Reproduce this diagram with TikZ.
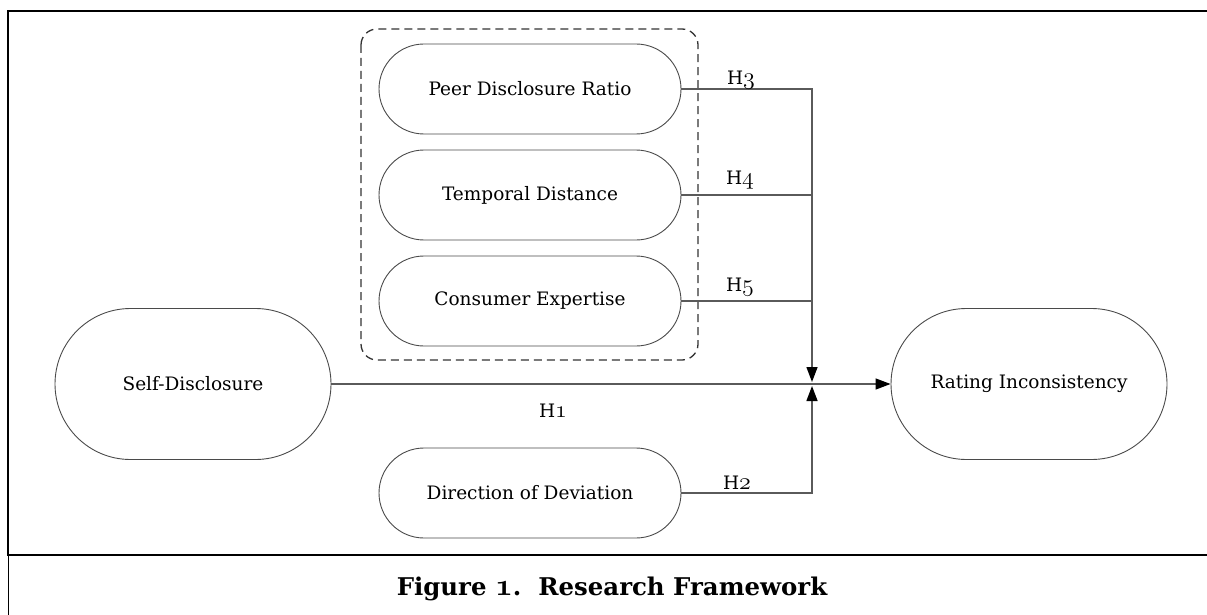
\documentclass[tikz,border=0pt]{standalone}
\usepackage{fix-cm}
\usepackage{fontspec}
\setmainfont{DejaVu Serif}
\usetikzlibrary{arrows.meta,shapes.misc}
\newcommand{\osf}[1]{{\fontencoding{OML}\fontfamily{cmm}\fontshape{it}\fontsize{24}{24}\selectfont #1}}
\newcommand{\osfb}[1]{{\fontencoding{OML}\fontfamily{cmm}\fontseries{b}\fontshape{it}\fontsize{31}{31}\selectfont #1}}
\definecolor{linegray}{HTML}{5A5A5A}
\definecolor{nodegray}{HTML}{4A4A4A}
\tikzset{
  stadium/.style={draw=nodegray, line width=0.9pt, rounded rectangle, inner sep=0pt,
    minimum width=302pt, minimum height=90pt, font=\fontsize{18.5}{22}\selectfont},
  bigstadium/.style={stadium, minimum width=276pt, minimum height=151pt},
  conn/.style={draw=linegray, line width=1.4pt},
  arr/.style={-{Triangle[length=15pt,width=11pt,black]}},
  hlabel/.style={inner sep=0pt, font=\fontsize{18.5}{22}\selectfont},
  frame/.style={line width=2pt, black}
}
\begin{document}
\begin{tikzpicture}[x=1pt,y=-1pt]
\useasboundingbox (0,0) rectangle (1207,615);
% frame
\draw[frame] (8,555) -- (8,11) -- (1208,11);
\draw[frame] (7,555) -- (1208,555);
\draw[line width=1pt] (8,555) -- (8,615);
\node[font=\fontsize{24.4}{28}\selectfont\bfseries] (cap) at (612,589) {Figure \osfb{1}.\ \ Research Framework};
% group box
\draw[dashed, dash pattern=on 8pt off 5pt, rounded corners=16pt, line width=1.3pt, black!80] (361,29) rectangle (698,360);
% nodes
\node[stadium] (peer) at (530,89) {Peer Disclosure Ratio};
\node[stadium] (temp) at (530,195) {Temporal Distance};
\node[stadium] (cons) at (530,301) {Consumer Expertise};
\node[stadium] (dir) at (530,493) {Direction of Deviation};
\node[bigstadium] (self) at (193,384) {Self-Disclosure};
\node[bigstadium] (rate) at (1029,384) {Rating Inconsistency};
% connectors
\coordinate (jt) at (812,382);
\coordinate (jb) at (812,386);
\draw[conn,arr] (peer.east) -| (jt);
\draw[conn] (temp.east) -- (temp.east -| jt);
\draw[conn] (cons.east) -- (cons.east -| jt);
\draw[conn,arr] (dir.east) -| (jb);
\draw[conn,arr] (self.east) -- (rate.west);
% labels
\node[hlabel, anchor=base] (h3) at (741,85) {H\osf{3}};
\node[hlabel, anchor=base] (h4) at (740,184) {H\osf{4}};
\node[hlabel, anchor=base] (h5) at (740,291) {H\osf{5}};
\node[hlabel, anchor=base] (h1) at (553,417) {H\osf{1}};
\node[hlabel, anchor=base] (h2) at (737,489) {H\osf{2}};
\end{tikzpicture}
\end{document}
